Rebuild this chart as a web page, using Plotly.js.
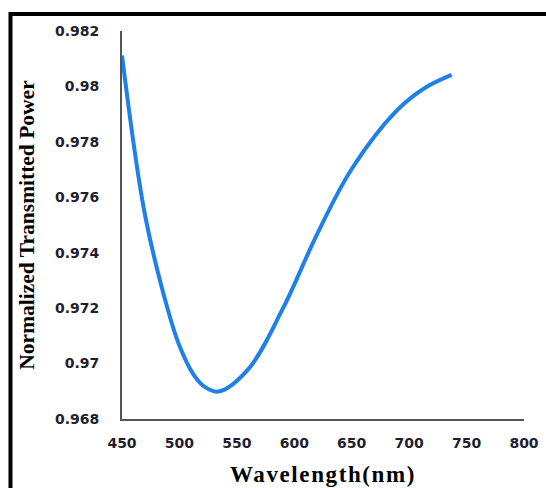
<!DOCTYPE html>
<html>
<head>
<meta charset="utf-8">
<script src="https://cdn.plot.ly/plotly-3.0.1.min.js"></script>
<style>html,body{margin:0;padding:0;background:#fff;}#chart{width:546px;height:488px;}
.xtitle{letter-spacing:1.6px;}</style>
</head>
<body>
<div id="chart"></div>
<script>
const wavelength = [450, 470, 490, 500, 512, 522, 534, 560, 590, 620, 650, 690, 715, 737];
const power = [0.98112, 0.97537, 0.97193, 0.97064, 0.96962, 0.96916, 0.96899, 0.96980, 0.97198, 0.97468, 0.97702, 0.97916, 0.97998, 0.98042];
const xTicks = [450, 500, 550, 600, 650, 700, 750, 800];
const yTicks = [0.968, 0.97, 0.972, 0.974, 0.976, 0.978, 0.98, 0.982];
const yTickText = ['0.968', '0.97', '0.972', '0.974', '0.976', '0.978', '0.98', '0.982'];

const trace = {
  x: wavelength, y: power, type: 'scatter', mode: 'lines',
  line: {color: '#1e80e8', width: 4, shape: 'spline', smoothing: 1},
  hoverinfo: 'none'
};

const tickFont = {family: 'DejaVu Sans, Verdana, sans-serif', size: 14, color: '#1e1e2e', weight: 'bold'};

const layout = {
  width: 546, height: 488,
  margin: {l: 122, r: 22, t: 31, b: 69},
  paper_bgcolor: '#fff', plot_bgcolor: '#fff',
  showlegend: false,
  xaxis: {
    range: [450, 800], tickmode: 'array', tickvals: xTicks, ticktext: xTicks.map(String),
    showgrid: false, zeroline: false, showline: true, linecolor: '#555', linewidth: 2,
    ticks: '', tickfont: tickFont, ticklabelstandoff: 10,
    title: {text: 'Wavelength(nm)', font: {family: 'Liberation Serif, Times New Roman, serif', size: 23, color: '#000', weight: 'bold'}, standoff: 16}
  },
  yaxis: {
    range: [0.968, 0.982], tickmode: 'array', tickvals: yTicks, ticktext: yTickText,
    showgrid: false, zeroline: false, showline: true, linecolor: '#555', linewidth: 2,
    ticks: '', tickfont: tickFont, ticklabelstandoff: 18,
    title: {text: 'Normalized Transmitted Power', font: {family: 'Liberation Serif, Times New Roman, serif', size: 21.5, color: '#000', weight: 'bold'}, standoff: 14}
  },
  shapes: [{
    type: 'rect', xref: 'paper', yref: 'paper',
    x0: -0.2774, x1: 1.3, y0: -0.4, y1: 1.0438,
    line: {color: '#000', width: 4}, fillcolor: 'rgba(0,0,0,0)', layer: 'above'
  }]
};

Plotly.newPlot('chart', [trace], layout, {displayModeBar: false, staticPlot: true});
</script>
</body>
</html>
